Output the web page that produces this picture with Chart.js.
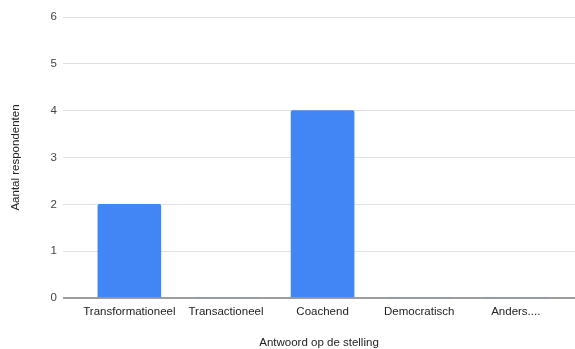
<!DOCTYPE html>
<html>
<head>
<meta charset="utf-8">
<script src="https://cdn.jsdelivr.net/npm/chart.js@4.4.1/dist/chart.umd.min.js"></script>
<style>
  html, body { margin: 0; padding: 0; background: #fff; }
  #chart { display: block; }
</style>
</head>
<body>
<canvas id="chart" width="575" height="349"></canvas>
<script>
// Antwoorden en aantallen
const categories = ["Transformationeel", "Transactioneel", "Coachend", "Democratisch", "Anders...."];
const counts = [2, 0, 4, 0, 0];
const yTicks = [0, 1, 2, 3, 4, 5, 6];

const font = { family: "Arial, 'Liberation Sans', sans-serif", size: 11.5 };

const ctx = document.getElementById("chart").getContext("2d");
const chart = new Chart(ctx, {
    type: "bar",
    data: {
        datasets: [
            {
                label: "Aantal respondenten",
                data: categories.map((c, i) => ({ x: i, y: counts[i] })),
                backgroundColor: "#4285f4",
                borderRadius: 2,
                borderSkipped: "bottom",
                barThickness: 63,
            },
        ],
    },
    options: {
        responsive: false,
        animation: false,
        layout: { padding: { top: 17, right: 0, bottom: 0, left: 0 } },
        plugins: {
            legend: { display: false },
            tooltip: { enabled: false },
        },
        scales: {
            x: {
                type: "linear",
                offset: false,
                min: -0.687,
                max: 4.613,
                grid: { display: false, drawTicks: false },
                border: { display: false },
                afterBuildTicks: (scale) => {
                    scale.ticks = categories.map((c, i) => ({ value: i }));
                },
                afterFit: (scale) => { scale.height = 51; },
                ticks: {
                    autoSkip: false,
                    maxRotation: 0,
                    padding: 7,
                    color: "#222",
                    font: font,
                    callback: (v) => categories[v],
                },
                title: {
                    display: true,
                    text: "Antwoord op de stelling",
                    color: "#222",
                    font: font,
                    padding: { top: 4, bottom: -1 },
                },
            },
            y: {
                min: 0,
                max: 6,
                afterBuildTicks: (scale) => {
                    scale.ticks = yTicks.map((v) => ({ value: v }));
                },
                afterFit: (scale) => { scale.width = 63; },
                grid: {
                    drawTicks: false,
                    color: (c) => (c.tick && c.tick.value === 0 ? "#9e9e9e" : "#e0e0e0"),
                    lineWidth: (c) => (c.tick && c.tick.value === 0 ? 2 : 1),
                },
                border: { display: false },
                ticks: {
                    padding: 6,
                    color: "#444",
                    font: font,
                },
                title: {
                    display: true,
                    text: "Aantal respondenten",
                    color: "#222",
                    font: font,
                    padding: { top: 9, bottom: 0 },
                },
            },
        },
    },
});
</script>
</body>
</html>
